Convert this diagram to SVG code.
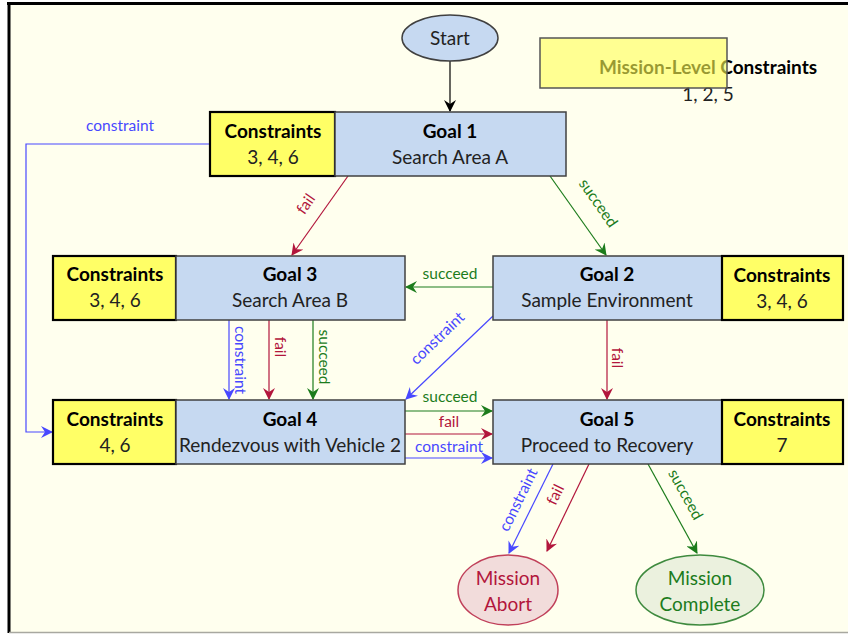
<svg xmlns="http://www.w3.org/2000/svg" width="848" height="634" viewBox="0 0 848 634">
<style>
text{font-family:Lato,"Liberation Sans",sans-serif;}
.goal{fill:#C6D9F1;stroke:#404040;stroke-width:1.5;}
.con{fill:#FFFF66;stroke:#000;stroke-width:2.2;}
.t{font-size:19px;fill:#222;text-anchor:middle;}
.b{font-weight:bold;fill:#000;}
.lbl{font-size:15.5px;text-anchor:middle;}
.blue{stroke:#4848FF;fill:none;stroke-width:1.2;}
.red{stroke:#B2163C;fill:none;stroke-width:1.2;}
.green{stroke:#1C7C1C;fill:none;stroke-width:1.2;}
.blk{stroke:#000;fill:none;stroke-width:1.2;}
.tb{fill:#4848FF;}
.tr{fill:#B2163C;}
.tg{fill:#1C7C1C;}
</style>
<defs>
<marker id="aBlue" viewBox="0 0 12 12" refX="11" refY="6" markerWidth="12" markerHeight="12" markerUnits="userSpaceOnUse" orient="auto"><path d="M0,0 L12,6 L0,12 L4,6 z" fill="#4848FF"/></marker>
<marker id="aRed" viewBox="0 0 12 12" refX="11" refY="6" markerWidth="12" markerHeight="12" markerUnits="userSpaceOnUse" orient="auto"><path d="M0,0 L12,6 L0,12 L4,6 z" fill="#B2163C"/></marker>
<marker id="aGreen" viewBox="0 0 12 12" refX="11" refY="6" markerWidth="12" markerHeight="12" markerUnits="userSpaceOnUse" orient="auto"><path d="M0,0 L12,6 L0,12 L4,6 z" fill="#1C7C1C"/></marker>
<marker id="aBlack" viewBox="0 0 12 12" refX="11" refY="6" markerWidth="12" markerHeight="12" markerUnits="userSpaceOnUse" orient="auto"><path d="M0,0 L12,6 L0,12 L4,6 z" fill="#000"/></marker>
</defs>
<rect x="0" y="0" width="848" height="634" fill="#fff"/>
<rect x="9" y="3" width="845" height="629" fill="#FFFFEE"/>
<line x1="7" y1="3.5" x2="848" y2="3.5" stroke="#000" stroke-width="3"/>
<line x1="9" y1="2" x2="9" y2="633" stroke="#000" stroke-width="3"/>
<line x1="9" y1="632.5" x2="848" y2="632.5" stroke="#A8A8A0" stroke-width="1.5"/>

<g id="connectors">
<line class="blk" x1="450" y1="61" x2="450" y2="111" marker-end="url(#aBlack)"/>
<polyline class="blue" points="210,144 26,144 26,432 52,432" marker-end="url(#aBlue)"/>
<text class="lbl tb" x="120" y="131">constraint</text>
<line class="red" x1="348" y1="176" x2="292" y2="255" marker-end="url(#aRed)"/>
<text class="lbl tr" transform="translate(310,207) rotate(-55)">fail</text>
<line class="green" x1="550" y1="176" x2="606" y2="255" marker-end="url(#aGreen)"/>
<text class="lbl tg" transform="translate(594,206) rotate(55)">succeed</text>
<line class="green" x1="493" y1="287" x2="406" y2="287" marker-end="url(#aGreen)"/>
<text class="lbl tg" x="450" y="279">succeed</text>
<line class="blue" x1="493" y1="316" x2="406" y2="399" marker-end="url(#aBlue)"/>
<text class="lbl tb" transform="translate(441,342) rotate(-44)">constraint</text>
<line class="red" x1="607" y1="320" x2="607" y2="399" marker-end="url(#aRed)"/>
<text class="lbl tr" transform="translate(612,358) rotate(90)">fail</text>
<line class="blue" x1="229" y1="320" x2="229" y2="399" marker-end="url(#aBlue)"/>
<text class="lbl tb" transform="translate(235,360) rotate(90)">constraint</text>
<line class="red" x1="269" y1="320" x2="269" y2="399" marker-end="url(#aRed)"/>
<text class="lbl tr" transform="translate(275,347) rotate(90)">fail</text>
<line class="green" x1="313" y1="320" x2="313" y2="399" marker-end="url(#aGreen)"/>
<text class="lbl tg" transform="translate(319,357) rotate(90)">succeed</text>
<line class="green" x1="405" y1="411" x2="492" y2="411" marker-end="url(#aGreen)"/>
<text class="lbl tg" x="450" y="402">succeed</text>
<line class="red" x1="405" y1="434" x2="492" y2="434" marker-end="url(#aRed)"/>
<text class="lbl tr" x="449" y="427">fail</text>
<line class="blue" x1="405" y1="458" x2="492" y2="458" marker-end="url(#aBlue)"/>
<text class="lbl tb" x="449" y="452">constraint</text>
<line class="blue" x1="553" y1="464" x2="509" y2="553" marker-end="url(#aBlue)"/>
<text class="lbl tb" transform="translate(523,502) rotate(-64)">constraint</text>
<line class="red" x1="589" y1="464" x2="547" y2="551" marker-end="url(#aRed)"/>
<text class="lbl tr" transform="translate(560,497) rotate(-64)">fail</text>
<line class="green" x1="648" y1="464" x2="697" y2="553" marker-end="url(#aGreen)"/>
<text class="lbl tg" transform="translate(681,497) rotate(61)">succeed</text>
</g>

<g id="start">
<ellipse cx="450" cy="38" rx="48" ry="23" fill="#C6D9F1" stroke="#404040" stroke-width="1.5"/>
<text class="t" x="450" y="45">Start</text>
</g>

<g id="mission-level">
<text class="t b" x="708" y="74">Mission-Level Constraints</text>
<text class="t" x="708" y="101">1, 2, 5</text>
<rect x="540" y="38" width="187" height="50" fill="#FFFF55" fill-opacity="0.6" stroke="#555" stroke-width="1.5"/>
</g>

<g id="goal1">
<rect class="con" x="210" y="112" width="125" height="64"/>
<rect class="goal" x="335" y="112" width="231" height="64"/>
<text class="t b" x="273" y="138">Constraints</text>
<text class="t" x="273" y="164">3, 4, 6</text>
<text class="t b" x="450" y="138">Goal 1</text>
<text class="t" x="450" y="164">Search Area A</text>
</g>

<g id="goal3">
<rect class="con" x="53" y="256" width="123" height="64"/>
<rect class="goal" x="176" y="256" width="229" height="64"/>
<text class="t b" x="115" y="281">Constraints</text>
<text class="t" x="115" y="307">3, 4, 6</text>
<text class="t b" x="290" y="281">Goal 3</text>
<text class="t" x="290" y="307">Search Area B</text>
</g>

<g id="goal2">
<rect class="goal" x="493" y="256" width="229" height="64"/>
<rect class="con" x="722" y="256" width="121" height="64"/>
<text class="t b" x="607" y="281">Goal 2</text>
<text class="t" x="607" y="307">Sample Environment</text>
<text class="t b" x="782" y="282">Constraints</text>
<text class="t" x="782" y="308">3, 4, 6</text>
</g>

<g id="goal4">
<rect class="con" x="53" y="400" width="123" height="64"/>
<rect class="goal" x="176" y="400" width="229" height="64"/>
<text class="t b" x="115" y="426">Constraints</text>
<text class="t" x="115" y="452">4, 6</text>
<text class="t b" x="290" y="426">Goal 4</text>
<text class="t" x="290" y="452">Rendezvous with Vehicle 2</text>
</g>

<g id="goal5">
<rect class="goal" x="493" y="400" width="229" height="64"/>
<rect class="con" x="722" y="400" width="121" height="64"/>
<text class="t b" x="607" y="426">Goal 5</text>
<text class="t" x="607" y="452">Proceed to Recovery</text>
<text class="t b" x="782" y="426">Constraints</text>
<text class="t" x="782" y="452">7</text>
</g>

<g id="abort">
<ellipse cx="508" cy="590" rx="50" ry="35" fill="#F2DCDB" stroke="#C0405A" stroke-width="1.5"/>
<text class="t" x="508" y="585" style="fill:#B2163C">Mission</text>
<text class="t" x="508" y="611" style="fill:#B2163C">Abort</text>
</g>

<g id="complete">
<ellipse cx="700" cy="590" rx="64" ry="35" fill="#EBF1DE" stroke="#3E8A3E" stroke-width="1.5"/>
<text class="t" x="700" y="585" style="fill:#1C7C1C">Mission</text>
<text class="t" x="700" y="611" style="fill:#1C7C1C">Complete</text>
</g>
</svg>
